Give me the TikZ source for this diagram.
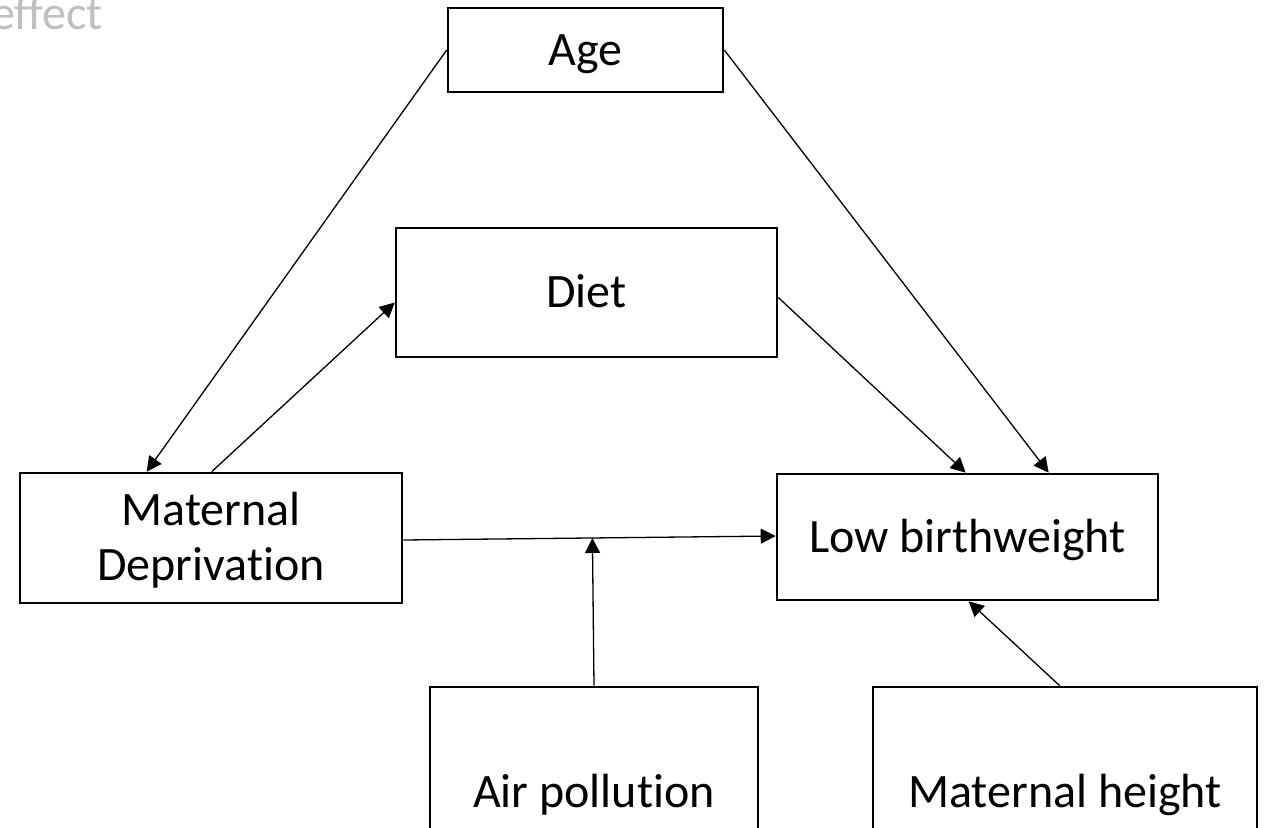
\documentclass[tikz,border=0pt]{standalone}
\usepackage{fontspec}
\setmainfont{Carlito}[Ligatures={NoCommon,NoContextual,NoRequired},RawFeature={-liga;-calt;-clig}]
\usetikzlibrary{arrows.meta,calc}
\begin{document}
\begin{tikzpicture}[x=1pt,y=-1pt,
  box/.style={draw=black,line width=2.6pt,fill=white,inner sep=0pt,
    align=center,font=\fontsize{48}{55}\selectfont,
    text height=30pt,text depth=0pt},
  twoline/.style={text height=,text depth=4pt},
  link/.style={line width=1.3pt,-{Triangle[length=15pt,width=15pt]}}]
\clip (0,0) rectangle (1265,827);
\fill[white] (0,0) rectangle (1265,827);

% faded heading fragment
\node[anchor=base west,inner sep=0pt,text=black!25,
  font=\fontsize{48}{58}\selectfont] (hd) at (-9,29) {effect};

% variables
\node[box,minimum width=275pt,minimum height=84pt]  (age)  at (585.5,50)  {Age};
\node[box,minimum width=381pt,minimum height=129pt] (diet) at (586.5,292.5) {Diet};
\node[box,twoline,minimum width=382pt,minimum height=130pt] (md) at (211,538) {Maternal\\Deprivation};
\node[box,minimum width=381pt,minimum height=126pt] (lbw)  at (967.5,537) {Low birthweight};
\node[box,minimum width=328pt,minimum height=210pt] (air)  at (594,792)   {Air pollution};
\node[box,minimum width=384pt,minimum height=210pt] (mh)   at (1065,792)  {Maternal height};

% causal paths
\draw[link] (age.west) -- ([xshift=128pt]md.north west);
\draw[link] ([xshift=193pt]md.north west) -- ([yshift=-10pt]diet.west);
\draw[link] (age.east) -- ([xshift=273pt]lbw.north west);
\draw[link] ([yshift=-5pt]diet.east) -- ([xshift=190pt]lbw.north west);
\draw[link] ([yshift=-2pt]md.east) -- ([yshift=1pt]lbw.west);
\coordinate (meet) at ($([yshift=-2pt]md.east)!(air.north)!([yshift=1pt]lbw.west)$);
\draw[link] (air.north) -- (meet);
\draw[link] ([xshift=188pt]mh.north west) -- ([xshift=193pt]lbw.south west);
\end{tikzpicture}
\end{document}
